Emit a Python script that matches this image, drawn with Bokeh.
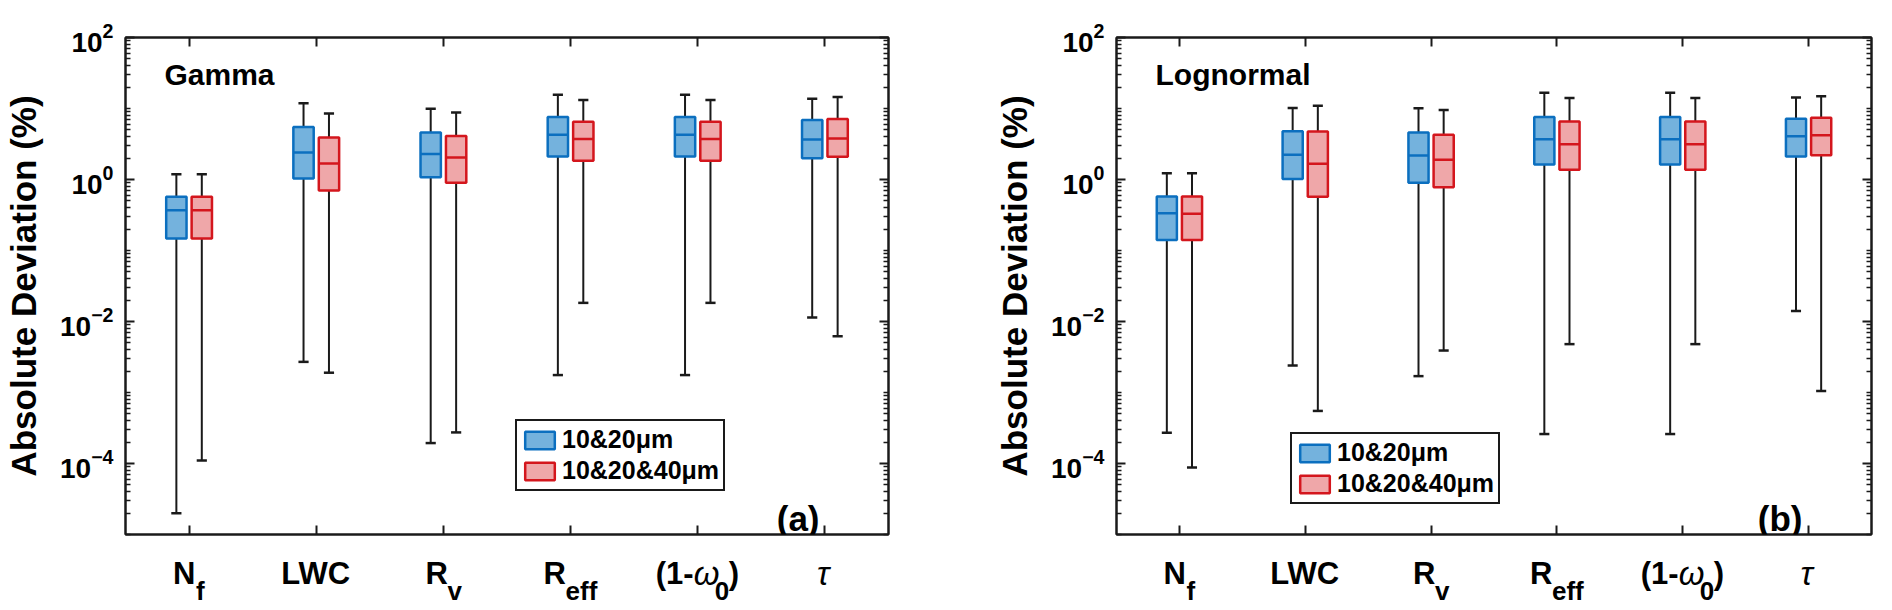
from bokeh.plotting import figure
from bokeh.layouts import row, column
from bokeh.models import (Range1d, FixedTicker, LogAxis, LinearAxis, Label,
                          Legend, LegendItem, CustomJSTickFormatter)
from bokeh.core.properties import value
from bokeh.embed import file_html
from bokeh.resources import INLINE

# ---------------- data ----------------
categories = ["Nf", "LWC", "Rv", "Reff", "(1-w0)", "tau"]
x_positions = [1, 2, 3, 4, 5, 6]
series_names = ["10&20μm", "10&20&40μm"]

# Gamma, 10&20um
g1_lo = [2.0e-5, 2.7e-3, 1.94e-4, 1.76e-3, 1.76e-3, 1.14e-2]
g1_q1 = [0.148, 1.03, 1.08, 2.11, 2.11, 2.0]
g1_med = [0.37, 2.4, 2.28, 4.26, 4.26, 3.66]
g1_q3 = [0.57, 5.5, 4.6, 7.6, 7.6, 6.86]
g1_hi = [1.19, 11.9, 9.9, 15.6, 15.6, 13.7]
# Gamma, 10&20&40um
g2_lo = [1.1e-4, 1.9e-3, 2.74e-4, 1.83e-2, 1.83e-2, 6.2e-3]
g2_q1 = [0.148, 0.70, 0.90, 1.83, 1.83, 2.09]
g2_med = [0.37, 1.68, 2.04, 3.71, 3.71, 3.78]
g2_q3 = [0.57, 3.9, 4.1, 6.5, 6.5, 7.1]
g2_hi = [1.19, 8.5, 8.8, 13.2, 13.2, 14.5]
# Lognormal, 10&20um
l1_lo = [2.7e-4, 2.4e-3, 1.7e-3, 2.6e-4, 2.6e-4, 1.4e-2]
l1_q1 = [0.141, 1.02, 0.90, 1.63, 1.63, 2.11]
l1_med = [0.335, 2.23, 2.18, 3.7, 3.7, 4.07]
l1_q3 = [0.576, 4.8, 4.59, 7.6, 7.6, 7.16]
l1_hi = [1.22, 10.2, 10.1, 16.6, 16.6, 14.3]
# Lognormal, 10&20&40um
l2_lo = [8.8e-5, 5.5e-4, 3.9e-3, 4.8e-3, 4.8e-3, 1.05e-3]
l2_q1 = [0.141, 0.57, 0.78, 1.37, 1.37, 2.2]
l2_med = [0.33, 1.66, 1.89, 3.14, 3.14, 4.2]
l2_q3 = [0.576, 4.74, 4.26, 6.56, 6.56, 7.4]
l2_hi = [1.22, 10.9, 9.5, 14.1, 14.1, 14.9]

y_major_ticks = [1e-4, 1e-2, 1e0, 1e2]

# tick label pieces: (text, kind)
tick_label_pieces = [
    [("N", "main"), ("f", "sub")],
    [("LWC", "main")],
    [("R", "main"), ("v", "sub")],
    [("R", "main"), ("eff", "sub")],
    [("(1-", "main"), ("ω", "greek"), ("0", "sub"), (")", "main")],
    [("τ", "greek")],
]

# ---------------- style ----------------
FONT = "Liberation Sans"
BLUE_EDGE = "#0b6fbf"
BLUE_FILL = "#74b2dd"
RED_EDGE = "#d4161d"
RED_FILL = "#efa7a9"
WHISK = "#1a1a1a"
BOX_W = 0.16
OFFS = 0.1
CAP_W = 0.08

YMIN, YMAX = 1e-5, 1e2

TOP_B = 37          # frame top (page has no margin from bokeh template)
FRAME_H = 497
BOT_B = 4
MAIN_H = TOP_B + FRAME_H + BOT_B
LAB_H = 608 - MAIN_H

SIZES = {"main": 31, "sub": 26, "greek": 33}
BASE_DROP = {"main": 39, "sub": 56, "greek": 39}   # px below frame bottom
CHAR_W = {"N": .722, "f": .333, "L": .611, "W": .944, "C": .722, "R": .722,
          "v": .556, "e": .556, "(": .333, "1": .556, "-": .333, "0": .556,
          ")": .333, "ω": .62, "τ": .47}

minor = []
for k in range(-5, 2):
    for m in range(1, 10):
        v = m * 10.0 ** k
        if v not in y_major_ticks and YMIN <= v <= YMAX:
            minor.append(v)


def style_axis(ax, show_labels):
    ax.axis_line_width = 2
    ax.axis_line_color = "#1a1a1a"
    ax.major_tick_line_width = 2
    ax.major_tick_line_color = "#1a1a1a"
    ax.minor_tick_line_width = 1.5
    ax.minor_tick_line_color = "#1a1a1a"
    ax.major_tick_in = 9
    ax.major_tick_out = 0
    ax.minor_tick_in = 5
    ax.minor_tick_out = 0
    if not show_labels:
        ax.formatter = CustomJSTickFormatter(code="return ''")
        ax.major_label_standoff = 0
        ax.major_label_text_font_size = "2px"


def make_panel(d1, d2, name, tag, width, mb_left, mb_right, legend_loc):
    xr = Range1d(0.5, 6.5)
    p = figure(width=width, height=MAIN_H, x_range=xr,
               y_range=Range1d(YMIN, YMAX), y_axis_type="log",
               output_backend="svg", toolbar_location=None,
               min_border_left=mb_left, min_border_right=mb_right,
               min_border_top=TOP_B, min_border_bottom=BOT_B)
    p.grid.visible = False
    p.outline_line_color = "#1a1a1a"
    p.outline_line_width = 2
    p.background_fill_color = "white"

    # axes
    xa = p.xaxis[0]
    xa.ticker = FixedTicker(ticks=x_positions, minor_ticks=[])
    style_axis(xa, False)
    ya = p.yaxis[0]
    ya.ticker = FixedTicker(ticks=y_major_ticks, minor_ticks=minor)
    style_axis(ya, True)
    ya.major_label_text_font = FONT
    ya.major_label_text_font_style = "bold"
    ya.major_label_text_font_size = "28px"
    ya.major_label_text_color = "black"
    ya.major_label_standoff = 12
    ya.axis_label = "Absolute Deviation (%)"
    ya.axis_label_text_font = FONT
    ya.axis_label_text_font_style = "bold"
    ya.axis_label_text_font_size = "35px"
    ya.axis_label_text_color = "black"
    ya.axis_label_standoff = 14

    ra = LogAxis(ticker=FixedTicker(ticks=y_major_ticks, minor_ticks=minor))
    style_axis(ra, False)
    p.add_layout(ra, "right")
    ta = LinearAxis(ticker=FixedTicker(ticks=x_positions, minor_ticks=[]))
    style_axis(ta, False)
    p.add_layout(ta, "above")

    renderers = []
    for (lo, q1, med, q3, hi), off, edge, fill in (
            (d1, -OFFS, BLUE_EDGE, BLUE_FILL), (d2, OFFS, RED_EDGE, RED_FILL)):
        xs = [x + off for x in x_positions]
        # whiskers
        p.segment(x0=xs, y0=q3, x1=xs, y1=hi, line_color=WHISK, line_width=2)
        p.segment(x0=xs, y0=lo, x1=xs, y1=q1, line_color=WHISK, line_width=2)
        p.segment(x0=[x - CAP_W / 2 for x in xs], y0=hi,
                  x1=[x + CAP_W / 2 for x in xs], y1=hi,
                  line_color=WHISK, line_width=2.5)
        p.segment(x0=[x - CAP_W / 2 for x in xs], y0=lo,
                  x1=[x + CAP_W / 2 for x in xs], y1=lo,
                  line_color=WHISK, line_width=2.5)
        # box
        r = p.vbar(x=xs, width=BOX_W, bottom=q1, top=q3, fill_color=fill,
                   line_color=edge, line_width=2.5)
        renderers.append(r)
        # median
        p.segment(x0=[x - BOX_W / 2 for x in xs], y0=med,
                  x1=[x + BOX_W / 2 for x in xs], y1=med,
                  line_color=edge, line_width=2.5)

    legend = Legend(items=[LegendItem(label=series_names[0], renderers=[renderers[0]]),
                           LegendItem(label=series_names[1], renderers=[renderers[1]])],
                    location=legend_loc)
    legend.border_line_color = "#1a1a1a"
    legend.border_line_width = 2
    legend.border_line_alpha = 1
    legend.background_fill_color = "white"
    legend.background_fill_alpha = 1
    legend.glyph_width = 37
    legend.glyph_height = 22
    legend.label_height = 22
    legend.label_text_font = FONT
    legend.label_text_font_style = "bold"
    legend.label_text_font_size = "25px"
    legend.label_text_color = "black"
    legend.padding = 4
    legend.spacing = 2
    legend.margin = 0
    legend.label_standoff = 4
    p.add_layout(legend)

    p.add_layout(Label(x=0.5, y=YMAX, x_offset=39, y_offset=-37, text=name,
                       text_font=FONT, text_font_size="30px",
                       text_font_style="bold", text_color="black",
                       text_baseline="alphabetic"))
    p.add_layout(Label(x=6.5, y=YMIN, x_offset=-69, y_offset=16, text=tag,
                       text_font=FONT, text_font_size="35px",
                       text_font_style="bold", text_color="black",
                       text_align="right", text_baseline="alphabetic"))

    # strip below the frame carrying the category labels
    q = figure(width=width, height=LAB_H, x_range=xr, y_range=Range1d(0, LAB_H),
               output_backend="svg", toolbar_location=None,
               x_axis_location=None, y_axis_location=None,
               min_border_left=mb_left, min_border_right=mb_right,
               min_border_top=0, min_border_bottom=0)
    q.grid.visible = False
    q.outline_line_color = None
    q.background_fill_color = "white"
    top_px = LAB_H + BOT_B   # frame bottom measured from strip bottom
    groups = {}
    for xc, pieces in zip(x_positions, tick_label_pieces):
        widths = [sum(CHAR_W.get(c, .6) for c in t) * SIZES[k] for t, k in pieces]
        cur = -sum(widths) / 2
        for (t, k), w in zip(pieces, widths):
            g = groups.setdefault(k, {"x": [], "y": [], "t": [], "o": []})
            g["x"].append(xc)
            g["y"].append(top_px - BASE_DROP[k])
            g["t"].append(t)
            g["o"].append(round(cur))
            cur += w
    for k, g in groups.items():
        q.text(x=g["x"], y=g["y"], text=g["t"], x_offset=g["o"],
               text_font=value(FONT), text_font_size=value(f"{SIZES[k]}px"),
               text_font_style="italic" if k == "greek" else "bold",
               text_color="black", text_align="left",
               text_baseline="alphabetic")
    return column(p, q)


c1 = make_panel((g1_lo, g1_q1, g1_med, g1_q3, g1_hi),
                (g2_lo, g2_q1, g2_med, g2_q3, g2_hi),
                "Gamma", "(a)", 992, 125, 104, (390, 43))
c2 = make_panel((l1_lo, l1_q1, l1_med, l1_q3, l1_hi),
                (l2_lo, l2_q1, l2_med, l2_q3, l2_hi),
                "Lognormal", "(b)", 898, 117, 19, (174, 30))

layout = row(c1, c2)
open("out.html", "w").write(file_html(layout, INLINE))
